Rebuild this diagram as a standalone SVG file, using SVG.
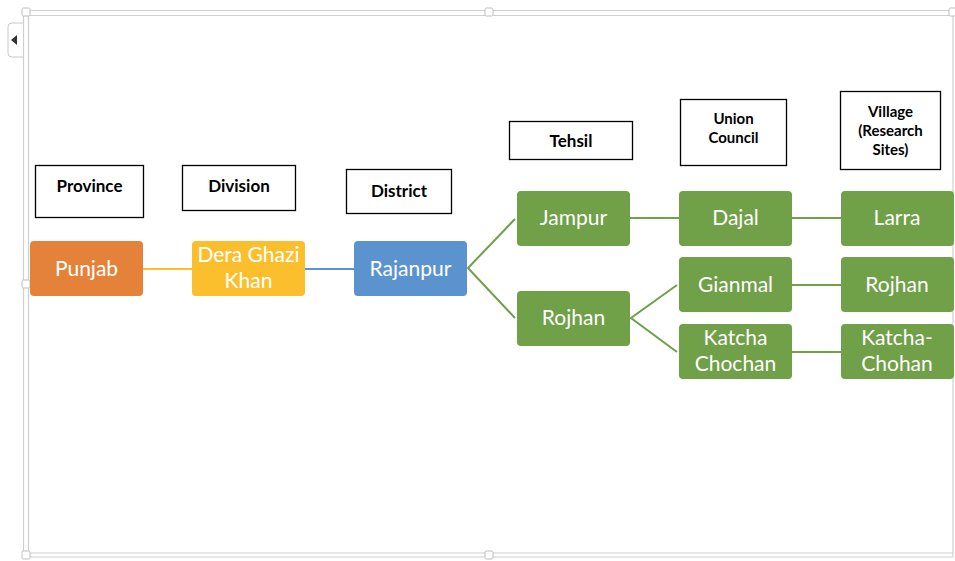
<svg xmlns="http://www.w3.org/2000/svg" width="955" height="561" viewBox="0 0 955 561">
<style>
.lbl{fill:#fff;stroke:#000;stroke-width:1.3}
.lt{font-family:Lato,"Liberation Sans",sans-serif;font-weight:bold;font-size:17px;fill:#000;text-anchor:middle}
.lt2{font-family:Lato,"Liberation Sans",sans-serif;font-weight:bold;font-size:15px;fill:#000;text-anchor:middle}
.nt{font-family:Lato,"Liberation Sans",sans-serif;font-size:21px;fill:#fff;text-anchor:middle}
.g{fill:#70A047}
.frame{fill:none;stroke:#cfcfcf;stroke-width:1.2}
.h{fill:#fff;stroke:#bdbdbd;stroke-width:1}
</style>
<rect width="955" height="561" fill="#fff"/>
<g id="frame">
<line class="frame" x1="23.5" y1="10.5" x2="23.5" y2="557"/>
<line class="frame" x1="28.5" y1="15.5" x2="28.5" y2="553"/>
<line class="frame" x1="23.5" y1="10.5" x2="953" y2="10.5"/>
<line class="frame" x1="28.5" y1="15.5" x2="953" y2="15.5"/>
<line class="frame" x1="23.5" y1="557" x2="953" y2="557"/>
<line class="frame" x1="28.5" y1="553" x2="953" y2="553"/>
<line class="frame" x1="953" y1="10.5" x2="953" y2="557"/>
<path d="M23 23 H12 Q8 23 8 27 V53 Q8 57 12 57 H23" fill="#fff" stroke="#c8c8c8"/>
<polygon points="11,40 17,35 17,45" fill="#333"/>
<rect class="h" x="22" y="8" width="8" height="8" rx="1.5"/>
<rect class="h" x="485" y="8" width="8" height="8" rx="1.5"/>
<rect class="h" x="949" y="8" width="8" height="8" rx="1.5"/>
<rect class="h" x="22" y="280" width="8" height="8" rx="1.5"/>
<rect class="h" x="22" y="551" width="8" height="8" rx="1.5"/>
<rect class="h" x="485" y="551" width="8" height="8" rx="1.5"/>
</g>
<g id="connectors" fill="none" stroke-width="2">
<line x1="143" y1="269" x2="192" y2="269" stroke="#FBBF2E"/>
<line x1="305" y1="269" x2="354" y2="269" stroke="#5B93CF"/>
<g stroke="#70A047">
<polyline points="515,219 468,268 515,318"/>
<line x1="630" y1="218" x2="679" y2="218"/>
<polyline points="677,285 631,318 677,352"/>
<line x1="792" y1="218" x2="841" y2="218"/>
<line x1="792" y1="285" x2="841" y2="285"/>
<line x1="792" y1="352" x2="841" y2="352"/>
</g>
</g>
<g id="lbl-province"><rect class="lbl" x="35.5" y="165.5" width="108" height="52"/><text class="lt" x="89.5" y="192">Province</text></g>
<g id="lbl-division"><rect class="lbl" x="182.5" y="165.5" width="113" height="45"/><text class="lt" x="239" y="192">Division</text></g>
<g id="lbl-district"><rect class="lbl" x="346.5" y="169.5" width="105" height="44"/><text class="lt" x="399" y="197">District</text></g>
<g id="lbl-tehsil"><rect class="lbl" x="509.5" y="121.5" width="123" height="38"/><text class="lt" x="571" y="147">Tehsil</text></g>
<g id="lbl-uc"><rect class="lbl" x="680.5" y="99.5" width="106" height="66"/><text class="lt2" x="733.5" y="124">Union</text><text class="lt2" x="733.5" y="143">Council</text></g>
<g id="lbl-village"><rect class="lbl" x="840.5" y="91.5" width="100" height="78"/><text class="lt2" x="890.5" y="117">Village</text><text class="lt2" x="890.5" y="136">(Research</text><text class="lt2" x="890.5" y="155">Sites)</text></g>
<g id="n-punjab"><rect x="30" y="241" width="113" height="55" rx="4" fill="#E5823A"/><text class="nt" x="86.5" y="276">Punjab</text></g>
<g id="n-dgk"><rect x="192" y="241" width="113" height="55" rx="4" fill="#FBBF2E"/><text class="nt" x="248.5" y="262">Dera Ghazi</text><text class="nt" x="248.5" y="288">Khan</text></g>
<g id="n-rajanpur"><rect x="354" y="241" width="113" height="55" rx="4" fill="#5B93CF"/><text class="nt" x="410.5" y="276">Rajanpur</text></g>
<g id="n-jampur"><rect class="g" x="517" y="191" width="113" height="55" rx="4"/><text class="nt" x="573.5" y="225">Jampur</text></g>
<g id="n-rojhan-t"><rect class="g" x="517" y="291" width="113" height="55" rx="4"/><text class="nt" x="573.5" y="325">Rojhan</text></g>
<g id="n-dajal"><rect class="g" x="679" y="191" width="113" height="55" rx="4"/><text class="nt" x="735.5" y="225">Dajal</text></g>
<g id="n-gianmal"><rect class="g" x="679" y="257" width="113" height="55" rx="4"/><text class="nt" x="735.5" y="292">Gianmal</text></g>
<g id="n-katcha"><rect class="g" x="679" y="324" width="113" height="55" rx="4"/><text class="nt" x="735.5" y="345">Katcha</text><text class="nt" x="735.5" y="371">Chochan</text></g>
<g id="n-larra"><rect class="g" x="841" y="191" width="113" height="55" rx="4"/><text class="nt" x="897" y="225">Larra</text></g>
<g id="n-rojhan-v"><rect class="g" x="841" y="257" width="113" height="55" rx="4"/><text class="nt" x="897" y="292">Rojhan</text></g>
<g id="n-katcha-chohan"><rect class="g" x="841" y="324" width="113" height="55" rx="4"/><text class="nt" x="897" y="345">Katcha-</text><text class="nt" x="897" y="371">Chohan</text></g>
</svg>
